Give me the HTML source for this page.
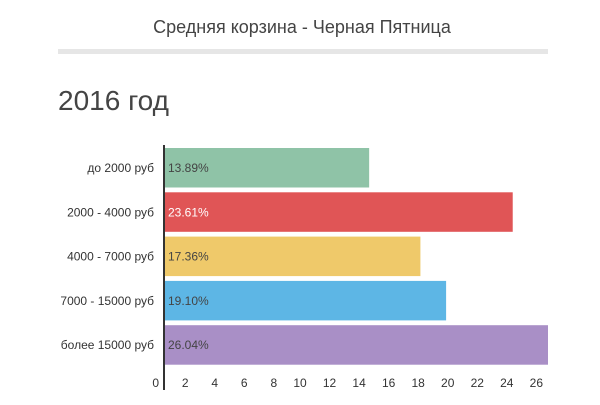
<!DOCTYPE html>
<html><head><meta charset="utf-8"><style>
body{margin:0;background:#fff;font-family:"Liberation Sans","DejaVu Sans",sans-serif;}
</style></head><body>
<svg width="600" height="400" xmlns="http://www.w3.org/2000/svg">
<text x="302" y="33" text-anchor="middle" font-size="18" fill="#444">Средняя корзина - Черная Пятница</text>
<rect x="58" y="49" width="490" height="5" fill="#e6e6e6"/>
<text x="58" y="110" font-size="28" fill="#444">2016 год</text>
<g id="bars"></g>
<g id="ticks"></g>
<line x1="164" y1="145" x2="164" y2="390" stroke="#333" stroke-width="2"/>
</svg>
<script>
const categories=["до 2000 руб","2000 - 4000 руб","4000 - 7000 руб","7000 - 15000 руб","более 15000 руб"];
const values=[13.89,23.61,17.36,19.10,26.04];
const valueLabels=["13.89%","23.61%","17.36%","19.10%","26.04%"];
const colors=["#8fc3a7","#e05556","#efc96a","#5db6e5","#a98fc6"];
const tickValues=[0,2,4,6,8,10,12,14,16,18,20,22,24,26];
const NS="http://www.w3.org/2000/svg";
const x0=164,scale=14.77;
function xs(v){return Math.min(x0+v*scale,548);}
function ys(i){return 148+i*44.3;}
const bars=document.getElementById('bars');
categories.forEach((c,i)=>{
  const r=document.createElementNS(NS,'rect');
  r.setAttribute('x',x0);r.setAttribute('y',ys(i));
  r.setAttribute('width',xs(values[i])-x0);r.setAttribute('height',39.5);
  r.setAttribute('fill',colors[i]);
  
  
  bars.appendChild(r);
  const t=document.createElementNS(NS,'text');
  t.setAttribute('x',168);t.setAttribute('y',ys(i)+24);
  t.setAttribute('font-size','12');t.setAttribute('fill',i==1?'#fff':'#444');
  t.textContent=valueLabels[i];
  
  
  bars.appendChild(t);
  const l=document.createElementNS(NS,'text');
  l.setAttribute('x',154);l.setAttribute('y',ys(i)+24);
  l.setAttribute('font-size','12');l.setAttribute('fill','#333');l.setAttribute('text-anchor','end');
  l.textContent=c;
  
  
  bars.appendChild(l);
});
const ticks=document.getElementById('ticks');
tickValues.forEach(v=>{
  const t=document.createElementNS(NS,'text');
  t.setAttribute('x',x0+v*scale-5);t.setAttribute('y',387);
  t.setAttribute('font-size','12');t.setAttribute('fill','#333');t.setAttribute('text-anchor','end');
  t.textContent=v;
  
  
  ticks.appendChild(t);
});
</script>
</body></html>
